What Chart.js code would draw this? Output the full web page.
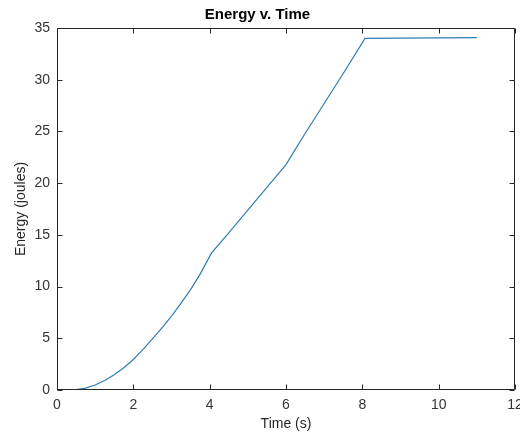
<!DOCTYPE html>
<html>
<head>
<meta charset="utf-8">
<script src="https://cdn.jsdelivr.net/npm/chart.js@4.4.1/dist/chart.umd.min.js"></script>
<style>
  html, body { margin: 0; padding: 0; background: #fff; }
  #wrap { width: 520px; height: 435px; }
</style>
</head>
<body>
<div id="wrap"><canvas id="energyChart" width="520" height="435"></canvas></div>
<script>
// values
var timeS = [0, 0.25, 0.5, 0.75, 1, 1.25, 1.5, 1.75, 2, 2.25, 2.5, 2.75, 3, 3.25, 3.5, 3.75, 4.05,
             4.5, 5, 5.5, 6, 6.5, 7, 7.5, 8.07, 9, 10, 11];
var energyJ = [0, 0, 0.03, 0.18, 0.48, 0.92, 1.47, 2.15, 2.95, 3.9, 4.95, 6.0, 7.15, 8.4, 9.7, 11.2, 13.25,
               15.2, 17.4, 19.6, 21.8, 24.8, 27.7, 30.6, 34.0, 34.02, 34.04, 34.07];
var xTicks = [0, 2, 4, 6, 8, 10, 12];
var yTicks = [0, 5, 10, 15, 20, 25, 30, 35];

var axisColor = '#262626';

// matlab style box with inward ticks on all four sides
var boxPlugin = {
    id: 'matlabBox',
    afterDraw: function (chart) {
        var ctx = chart.ctx;
        var a = chart.chartArea;
        var xs = chart.scales.x, ys = chart.scales.y;
        var L = Math.round(a.left) + 0.5, R = Math.round(a.right) - 0.5;
        var T = Math.round(a.top) + 0.5, B = Math.round(a.bottom) - 0.5;
        var len = 5;
        ctx.save();
        ctx.strokeStyle = axisColor;
        ctx.lineWidth = 1;
        ctx.beginPath();
        ctx.rect(L, T, R - L, B - T);
        xTicks.forEach(function (v) {
            var px = Math.round(xs.getPixelForValue(v)) + 0.5;
            ctx.moveTo(px, B); ctx.lineTo(px, B - len);
            ctx.moveTo(px, T); ctx.lineTo(px, T + len);
        });
        yTicks.forEach(function (v) {
            var py = Math.round(ys.getPixelForValue(v)) + 0.5;
            ctx.moveTo(L, py); ctx.lineTo(L + len, py);
            ctx.moveTo(R, py); ctx.lineTo(R - len, py);
        });
        ctx.stroke();
        ctx.restore();
    }
};

var ctx = document.getElementById('energyChart').getContext('2d');

new Chart(ctx, {
    type: 'line',
    data: {
        datasets: [{
            data: timeS.map(function (t, i) { return { x: t, y: energyJ[i] }; }),
            borderColor: '#2f7db0',
            borderWidth: 1.2,
            pointRadius: 0,
            tension: 0,
            fill: false
        }]
    },
    options: {
        responsive: false,
        animation: false,
        devicePixelRatio: 1,
        layout: { padding: { left: 0, right: 5, top: 0, bottom: 0 } },
        plugins: {
            legend: { display: false },
            tooltip: { enabled: false },
            title: {
                display: true,
                text: 'Energy v. Time',
                color: '#000',
                font: { family: 'Liberation Sans, Arial, sans-serif', size: 15, weight: 'bold' },
                padding: { top: 6, bottom: 4 }
            }
        },
        scales: {
            x: {
                type: 'linear',
                min: 0,
                max: 12,
                afterBuildTicks: function (scale) {
                    scale.ticks = xTicks.map(function (v) { return { value: v }; });
                },
                afterFit: function (scale) {
                    scale.height = 45;
                    // let the last label hang over the edge like the original
                    scale.paddingLeft = 0;
                    scale.paddingRight = 0;
                },
                grid: { display: false, drawTicks: false },
                border: { display: false },
                ticks: {
                    color: '#333',
                    padding: 7,
                    maxRotation: 0,
                    font: { family: 'Liberation Sans, Arial, sans-serif', size: 14 }
                },
                title: {
                    display: true,
                    text: 'Time (s)',
                    color: '#262626',
                    padding: { top: 0, bottom: 2 },
                    font: { family: 'Liberation Sans, Arial, sans-serif', size: 14 }
                }
            },
            y: {
                type: 'linear',
                min: 0,
                max: 35,
                afterBuildTicks: function (scale) {
                    scale.ticks = yTicks.map(function (v) { return { value: v }; });
                },
                afterFit: function (scale) {
                    scale.width = 57;
                    scale.paddingTop = 0;
                    scale.paddingBottom = 0;
                },
                grid: { display: false, drawTicks: false },
                border: { display: false },
                ticks: {
                    color: '#333',
                    padding: 7,
                    font: { family: 'Liberation Sans, Arial, sans-serif', size: 14 }
                },
                title: {
                    display: true,
                    text: 'Energy (joules)',
                    color: '#262626',
                    padding: { top: 13, bottom: 0 },
                    font: { family: 'Liberation Sans, Arial, sans-serif', size: 14 }
                }
            }
        }
    },
    plugins: [boxPlugin]
});
</script>
</body>
</html>
